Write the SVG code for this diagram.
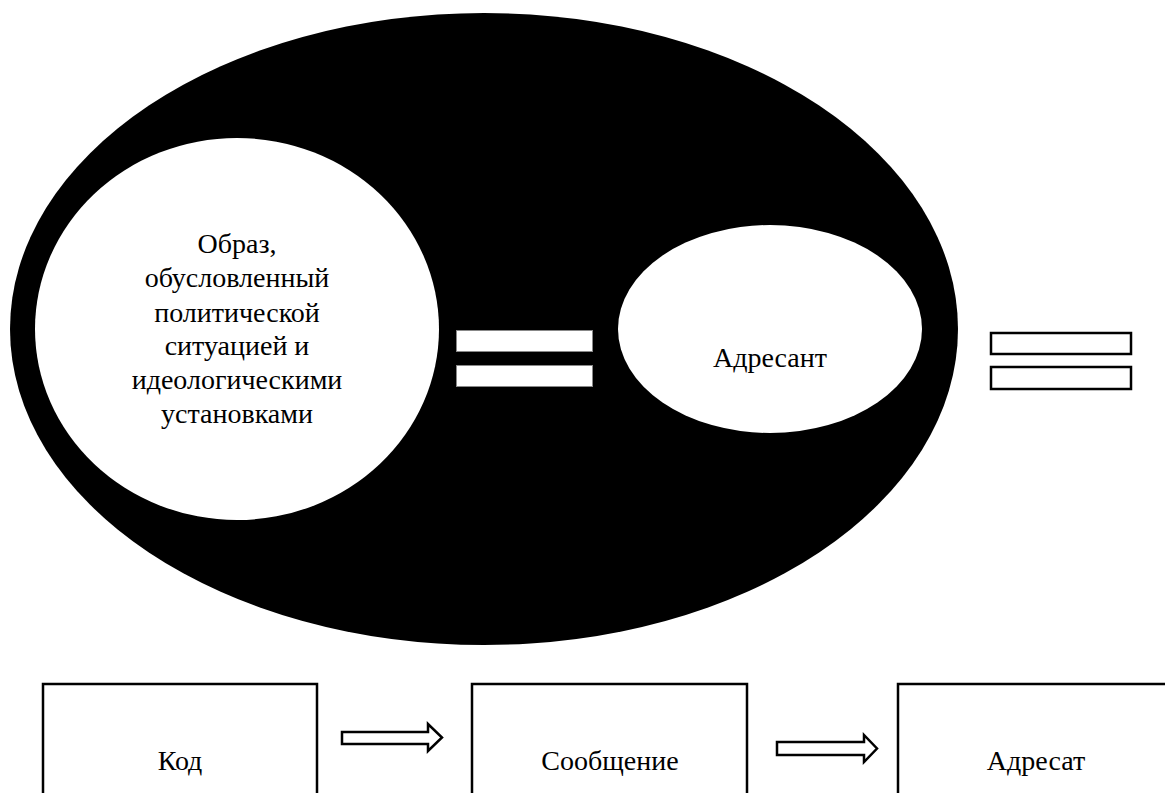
<svg xmlns="http://www.w3.org/2000/svg" width="1165" height="793" viewBox="0 0 1165 793">
<style>
text{font-family:"Liberation Serif","Times New Roman",serif;font-size:28px;fill:#000;text-anchor:middle}
.box{fill:#fff;stroke:#000;stroke-width:2.5}
.arr{fill:#fff;stroke:#000;stroke-width:2.5;stroke-linejoin:miter}
.eqin{fill:#fff;stroke:#888;stroke-width:1}
.eqout{fill:#fff;stroke:#000;stroke-width:2.5}
</style>
<rect width="1165" height="793" fill="#fff"/>
<g id="outer"><ellipse cx="484" cy="329" rx="474" ry="316" fill="#000"/></g>
<g id="image-node">
<ellipse cx="237" cy="329" rx="202" ry="191" fill="#fff"/>
<text x="237" y="253">Образ,</text>
<text x="237" y="287">обусловленный</text>
<text x="237" y="322">политической</text>
<text x="237" y="355">ситуацией и</text>
<text x="237" y="389">идеологическими</text>
<text x="237" y="423">установками</text>
</g>
<g id="equals-inner">
<rect class="eqin" x="456.5" y="330.5" width="136" height="21"/>
<rect class="eqin" x="456.5" y="365.5" width="136" height="21"/>
</g>
<g id="adresant">
<ellipse cx="770" cy="329" rx="152" ry="104" fill="#fff"/>
<text x="770" y="367">Адресант</text>
</g>
<g id="equals-outer">
<rect class="eqout" x="991" y="333" width="140" height="21"/>
<rect class="eqout" x="991" y="367" width="140" height="22"/>
</g>
<g id="kod"><rect class="box" x="43" y="684" width="274" height="120"/><text x="180" y="770">Код</text></g>
<g id="soobshchenie"><rect class="box" x="472" y="684" width="275" height="120"/><text x="610" y="770">Сообщение</text></g>
<g id="adresat"><rect class="box" x="898" y="684" width="280" height="120"/><text x="1036" y="770">Адресат</text></g>
<g id="connectors">
<path class="arr" d="M342,732 H428 V724 L442,737.5 L428,751 V744 H342 Z"/>
<path class="arr" d="M777,742 H864 V735 L877,748.5 L864,762 V755 H777 Z"/>
</g>
</svg>
